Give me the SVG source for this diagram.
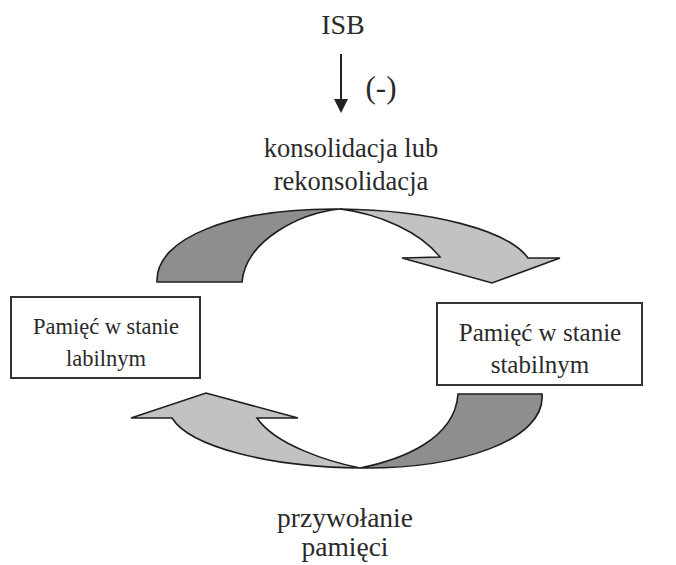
<svg xmlns="http://www.w3.org/2000/svg" width="676" height="565" viewBox="0 0 676 565">
<rect width="676" height="565" fill="#fff"/>
<g id="isb"><text x="343" y="34" font-family="Liberation Serif" font-size="28" fill="#2a2a2a" text-anchor="middle">ISB</text></g>
<g id="minus"><text x="381" y="98" font-family="Liberation Serif" font-size="31" fill="#2a2a2a" text-anchor="middle">(-)</text></g>
<g id="consolidation">
<text x="351" y="157" font-family="Liberation Serif" font-size="26.5" fill="#2a2a2a" text-anchor="middle">konsolidacja lub</text>
<text x="351" y="190" font-family="Liberation Serif" font-size="26.5" fill="#2a2a2a" text-anchor="middle">rekonsolidacja</text>
</g>
<g id="labile">
<rect x="11" y="297" width="189" height="81" fill="#fff" stroke="#333" stroke-width="2"/>
<text x="106" y="334" font-family="Liberation Serif" font-size="22.5" fill="#2a2a2a" text-anchor="middle">Pamięć w stanie</text>
<text x="106" y="366" font-family="Liberation Serif" font-size="22.5" fill="#2a2a2a" text-anchor="middle">labilnym</text>
</g>
<g id="stable">
<rect x="437" y="303" width="205" height="82" fill="#fff" stroke="#333" stroke-width="2"/>
<text x="540" y="341" font-family="Liberation Serif" font-size="25" fill="#2a2a2a" text-anchor="middle">Pamięć w stanie</text>
<text x="540" y="373" font-family="Liberation Serif" font-size="25" fill="#2a2a2a" text-anchor="middle">stabilnym</text>
</g>
<g id="retrieval">
<text x="345" y="527" font-family="Liberation Serif" font-size="27.5" fill="#2a2a2a" text-anchor="middle">przywołanie</text>
<text x="345" y="556" font-family="Liberation Serif" font-size="27.5" fill="#2a2a2a" text-anchor="middle">pamięci</text>
</g>
<g id="connectors" stroke="#1e1e1e" stroke-width="1.6">
<line x1="341" y1="54" x2="341" y2="100" stroke="#222" stroke-width="2"/>
<path d="M334,99 L348,99 L341,113 Z" fill="#222" stroke="none"/>
<g id="top-arrow">
<path fill="#8e8e8e" d="M157,282 C155,238 232,208 340,209 C300,213 246,240 242,282 Z"/>
<path fill="#c2c2c2" d="M340,209 C430,210 508,230 528,258 L560,258 L492,283 L402,258 L440,257 C420,232 380,214 340,209 Z"/>
</g>
<g id="bottom-arrow">
<path fill="#8e8e8e" d="M542,394 C546,440 460,469 360,468 C400,460 455,440 458,394 Z"/>
<path fill="#c2c2c2" d="M360,468 C270,467 190,447 172,418 L131,418 L206,393 L298,418 L257,418 C275,445 330,462 360,468 Z"/>
</g>
</g>
</svg>
